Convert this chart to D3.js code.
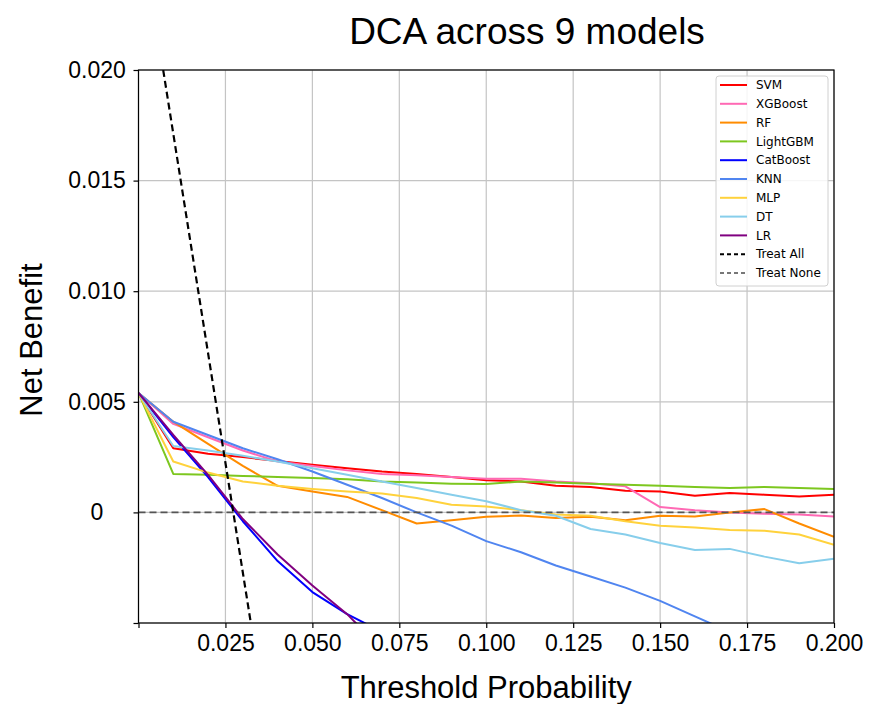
<!DOCTYPE html>
<html>
<head>
<meta charset="utf-8">
<script src="https://cdn.jsdelivr.net/npm/d3@7"></script>
<style>
  body { margin: 0; background: #fff; }
  svg { display: block; }
</style>
</head>
<body>
<div id="chart"></div>
<script>
// threshold probabilities (x)
var thresholds = [0, 0.01, 0.02, 0.03, 0.04, 0.05, 0.06, 0.07, 0.08, 0.09, 0.10,
  0.11, 0.12, 0.13, 0.14, 0.15, 0.16, 0.17, 0.18, 0.19, 0.20];

// net benefit per model
var svmNB = [0.0054, 0.0029, 0.00265, 0.0025, 0.00232, 0.00215, 0.0020, 0.00185, 0.00174, 0.0016, 0.00145,
  0.0014, 0.0012, 0.00115, 0.00098, 0.00095, 0.00075, 0.00088, 0.0008, 0.00072, 0.0008];
var xgboostNB = [0.0054, 0.0040, 0.0034, 0.0028, 0.0023, 0.0021, 0.0019, 0.00174, 0.00168, 0.0016, 0.00152,
  0.00152, 0.0014, 0.00132, 0.00118, 0.00024, 0.0001, 0.0, -0.00006, -0.0001, -0.00018];
var rfNB = [0.0054, 0.0041, 0.0031, 0.0021, 0.0012, 0.00094, 0.0007, 0.0001, -0.0005, -0.00036, -0.0002,
  -0.00014, -0.00025, -0.0002, -0.00036, -0.00015, -0.00018, 0.0, 0.00015, -0.0005, -0.0011];
var lightgbmNB = [0.0054, 0.00174, 0.0017, 0.00165, 0.0016, 0.00155, 0.0015, 0.0014, 0.00135, 0.0013, 0.00128,
  0.0014, 0.00135, 0.0013, 0.00125, 0.0012, 0.00115, 0.0011, 0.00115, 0.0011, 0.00106];
var catboostNB = [0.0054, 0.0034, 0.0016, -0.0004, -0.0022, -0.0036, -0.0046, -0.0054];
var knnNB = [0.0054, 0.0041, 0.0035, 0.0029, 0.0024, 0.00185, 0.00125, 0.00065, 0.0, -0.0006, -0.0013,
  -0.0018, -0.0024, -0.0029, -0.0034, -0.0040, -0.0047, -0.0054];
var mlpNB = [0.0054, 0.0023, 0.0018, 0.0014, 0.0012, 0.00106, 0.00095, 0.00085, 0.00065, 0.00035, 0.00027,
  0.0001, -0.0001, -0.00015, -0.0004, -0.0006, -0.00068, -0.0008, -0.00083, -0.001, -0.00146];
var dtNB = [0.0054, 0.0030, 0.0028, 0.00256, 0.0023, 0.0020, 0.0017, 0.0014, 0.0011, 0.0008, 0.0005,
  0.0001, -0.00015, -0.00075, -0.001, -0.00138, -0.0017, -0.00165, -0.002, -0.0023, -0.0021];
var lrNB = [0.0054, 0.0035, 0.0017, -0.0003, -0.0019, -0.0033, -0.0046, -0.0062];

// reference strategies
var treatAllT = [0.0071, 0.0323];
var treatAllNB = [0.020, -0.005];
var treatNoneT = [0, 0.20];
var treatNoneNB = [0, 0];

var modelNames = ['SVM', 'XGBoost', 'RF', 'LightGBM', 'CatBoost', 'KNN', 'MLP', 'DT', 'LR'];
var modelValues = [svmNB, xgboostNB, rfNB, lightgbmNB, catboostNB, knnNB, mlpNB, dtNB, lrNB];
var modelColors = ['#ff0000', '#ff69b4', '#ff8c00', '#7dc71f', '#0000ff', '#5085f0', '#ffd23c', '#87ceeb', '#800080'];

var xTicks = [0, 0.025, 0.05, 0.075, 0.1, 0.125, 0.15, 0.175, 0.2];
var yTicks = [-0.005, 0, 0.005, 0.010, 0.015, 0.020];

var width = 877, height = 704;
var plotLeft = 138.5, plotRight = 834, plotTop = 70, plotBottom = 623;

var svg = d3.select('#chart')
  .append('svg')
  .attr('width', width)
  .attr('height', height);

var x = d3.scaleLinear().domain([0, 0.2]).range([plotLeft, plotRight]);
var y = d3.scaleLinear().domain([-0.005, 0.020]).range([plotBottom, plotTop]);

svg.append('defs').append('clipPath')
  .attr('id', 'plotClip')
  .append('rect')
  .attr('x', plotLeft).attr('y', plotTop)
  .attr('width', plotRight - plotLeft).attr('height', plotBottom - plotTop);

// grid
svg.append('g')
  .selectAll('line')
  .data(xTicks)
  .enter().append('line')
  .attr('x1', function (d) { return x(d); })
  .attr('x2', function (d) { return x(d); })
  .attr('y1', plotTop).attr('y2', plotBottom)
  .attr('stroke', '#c4c4c4').attr('stroke-width', 1.2);
svg.append('g')
  .selectAll('line')
  .data(yTicks)
  .enter().append('line')
  .attr('y1', function (d) { return y(d); })
  .attr('y2', function (d) { return y(d); })
  .attr('x1', plotLeft).attr('x2', plotRight)
  .attr('stroke', '#c4c4c4').attr('stroke-width', 1.2);

// lines
var line = d3.line()
  .x(function (d) { return x(d[0]); })
  .y(function (d) { return y(d[1]); });

var plot = svg.append('g').attr('clip-path', 'url(#plotClip)');

modelValues.forEach(function (vals, i) {
  var pts = vals.map(function (v, j) { return [thresholds[j], v]; });
  plot.append('path')
    .datum(pts)
    .attr('d', line)
    .attr('fill', 'none')
    .attr('stroke', modelColors[i])
    .attr('stroke-width', 2)
    .attr('stroke-linejoin', 'round');
});

plot.append('path')
  .datum(treatAllT.map(function (t, j) { return [t, treatAllNB[j]]; }))
  .attr('d', line)
  .attr('fill', 'none')
  .attr('stroke', '#000')
  .attr('stroke-width', 2.2)
  .attr('stroke-dasharray', '7,4');

plot.append('path')
  .datum(treatNoneT.map(function (t, j) { return [t, treatNoneNB[j]]; }))
  .attr('d', line)
  .attr('fill', 'none')
  .attr('stroke', '#555')
  .attr('stroke-width', 1.6)
  .attr('stroke-dasharray', '7,4');

// axes
var xAxis = svg.append('g')
  .attr('transform', 'translate(0,' + plotBottom + ')')
  .call(d3.axisBottom(x).tickValues(xTicks).tickSize(5).tickPadding(7)
    .tickFormat(function (d) { return d === 0 ? '' : d3.format('.3f')(d); }));
var yAxis = svg.append('g')
  .attr('transform', 'translate(' + plotLeft + ',0)')
  .call(d3.axisLeft(y).tickValues(yTicks).tickSize(5)
    .tickFormat(function (d) {
      if (d < 0) return '';
      if (d === 0) return '0';
      return d3.format('.3f')(d);
    }));

[xAxis, yAxis].forEach(function (g) {
  g.select('.domain').remove();
  g.selectAll('.tick line').attr('stroke', '#000').attr('stroke-width', 1.2);
  g.selectAll('.tick text')
    .attr('fill', '#000')
    .style('font-family', 'Liberation Sans, Arial, sans-serif')
    .style('font-size', '23px');
});
yAxis.selectAll('.tick text')
  .attr('x', 97 - plotLeft)
  .attr('text-anchor', 'middle');

// frame
svg.append('rect')
  .attr('x', plotLeft).attr('y', plotTop)
  .attr('width', plotRight - plotLeft).attr('height', plotBottom - plotTop)
  .attr('fill', 'none')
  .attr('stroke', '#000')
  .attr('stroke-width', 1.2);

// titles
svg.append('text')
  .attr('x', 527).attr('y', 44)
  .attr('text-anchor', 'middle')
  .style('font-family', 'Liberation Sans, Arial, sans-serif')
  .style('font-size', '37px')
  .text('DCA across 9 models');

svg.append('text')
  .attr('x', (plotLeft + plotRight) / 2).attr('y', 698)
  .attr('text-anchor', 'middle')
  .style('font-family', 'Liberation Sans, Arial, sans-serif')
  .style('font-size', '31px')
  .text('Threshold Probability');

svg.append('text')
  .attr('transform', 'translate(42,340) rotate(-90)')
  .attr('text-anchor', 'middle')
  .style('font-family', 'Liberation Sans, Arial, sans-serif')
  .style('font-size', '31px')
  .text('Net Benefit');

// legend
var legendItems = modelNames.map(function (n, i) {
  return { name: n, color: modelColors[i], dash: null };
});
legendItems.push({ name: 'Treat All', color: '#000', dash: '4,3' });
legendItems.push({ name: 'Treat None', color: '#777', dash: '4,3' });

var legend = svg.append('g').attr('transform', 'translate(716,76)');
legend.append('rect')
  .attr('width', 112).attr('height', 210)
  .attr('rx', 3)
  .attr('fill', '#fff').attr('fill-opacity', 0.85)
  .attr('stroke', '#d0d0d0');

var rows = legend.selectAll('.row')
  .data(legendItems)
  .enter().append('g')
  .attr('class', 'row')
  .attr('transform', function (d, i) { return 'translate(0,' + (9 + i * 18.8) + ')'; });
rows.append('line')
  .attr('x1', 4).attr('x2', 31)
  .attr('stroke', function (d) { return d.color; })
  .attr('stroke-width', 2)
  .attr('stroke-dasharray', function (d) { return d.dash; });
rows.append('text')
  .attr('x', 40).attr('dy', '0.35em')
  .style('font-family', 'DejaVu Sans, sans-serif')
  .style('font-size', '12px')
  .text(function (d) { return d.name; });
</script>
</body>
</html>
